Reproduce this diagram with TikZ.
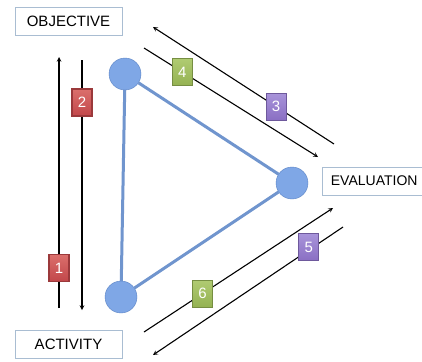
\documentclass[tikz,border=0pt]{standalone}
\usepackage{fontspec}
\setmainfont{Liberation Sans}
\usetikzlibrary{arrows}
\definecolor{boxline}{HTML}{A9BDD2}
\definecolor{vtxfill}{HTML}{7FA7E6}
\definecolor{vtxline}{HTML}{5C84C4}
\definecolor{edgeblue}{HTML}{7095CE}
\definecolor{redtop}{HTML}{DB6F6C}
\definecolor{redbot}{HTML}{C2474A}
\definecolor{greentop}{HTML}{B0CB72}
\definecolor{greenbot}{HTML}{94B252}
\definecolor{purpletop}{HTML}{A894DA}
\definecolor{purplebot}{HTML}{8A6FC3}
\tikzstyle{stage} = [rectangle, 
draw=boxline, 
fill=white, 
minimum width=107, 
minimum height=28, 
font=\fontsize{15}{18}\selectfont]
\tikzstyle{vertex} = [circle, 
draw=vtxline, 
fill=vtxfill, 
minimum size=32, 
inner sep=0pt]
\tikzstyle{edge} = [line width=3pt, draw=edgeblue]
\tikzstyle{tag} = [rectangle, 
minimum width=20, 
minimum height=27, 
inner sep=0pt, 
text=white, 
font=\fontsize{15}{17}\selectfont]
\tikzstyle{redtag} = [tag, draw=redbot!80!black, top color=redtop, bottom color=redbot]
\tikzstyle{greentag} = [tag, draw=greenbot!80!black, top color=greentop, bottom color=greenbot]
\tikzstyle{purpletag} = [tag, draw=purplebot!80!black, top color=purpletop, bottom color=purplebot]
\tikzstyle{arrow} = [line width=1.1pt,->,>=stealth]

\begin{document}
\begin{tikzpicture}[x=1pt, y=-1pt]
\useasboundingbox[fill=white] (0,0) rectangle (422,361);
\clip (0,0) rectangle (422,361);

\node (objective) [stage] at (68.5,21) {OBJECTIVE};
\node (activity) [stage] at (68.5,344) {ACTIVITY};
\node (evaluation) [stage, minimum width=104, inner xsep=4pt, anchor=west,
  font=\fontsize{14}{17}\selectfont] at (322,181) {EVALUATION};

\node (top) [vertex] at (125,74) {};
\node (bottom) [vertex] at (121,297) {};
\node (right) [vertex] at (292,183) {};

\draw [edge] (top) -- (bottom);
\draw [edge] (top) -- (right);
\draw [edge] (bottom) -- (right);

\coordinate (a1s) at (59,308);
\coordinate (a1e) at (59,57);
\coordinate (a2s) at (82,60);
\coordinate (a2e) at (82,310);
\coordinate (a3s) at (334,144);
\coordinate (a3e) at (153,27);
\coordinate (a4s) at (144,48);
\coordinate (a4e) at (318,157);
\coordinate (a5s) at (343,227);
\coordinate (a5e) at (153,355);
\coordinate (a6s) at (144,332);
\coordinate (a6e) at (333,208);

\draw [arrow] (a1s) -- node[redtag, pos=0.16] (t1) {1} (a1e);
\draw [arrow] (a2s) -- node[redtag, pos=0.17] (t2) {2} (a2e);
\draw [arrow] (a3s) -- node[purpletag, pos=0.32] (t3) {3} (a3e);
\draw [arrow] (a4s) -- node[greentag, pos=0.22] (t4) {4} (a4e);
\draw [arrow] (a5s) -- node[purpletag, pos=0.18, yshift=3] (t5) {5} (a5e);
\draw [arrow] (a6s) -- node[greentag, pos=0.31] (t6) {6} (a6e);

\end{tikzpicture}
\end{document}
